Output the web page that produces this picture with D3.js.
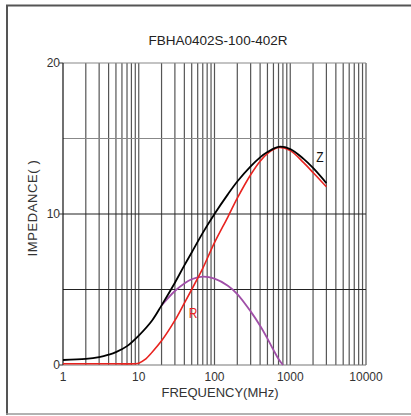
<!DOCTYPE html>
<html><head><meta charset="utf-8">
<script src="https://cdn.jsdelivr.net/npm/d3@7"></script>
<style>body{margin:0;background:#fff}svg{display:block}text{font-family:Arial,"Liberation Sans",sans-serif}</style>
</head><body>
<svg id="c" width="411" height="416"></svg>
<script>
const title = "FBHA0402S-100-402R";
const xTicks = [1, 10, 100, 1000, 10000];
const xTickLabels = ["1", "10", "100", "1000", "10000"];
const yTicks = [0, 10, 20];
const yGrid = [5, 10, 15, 20];
const zFreq = [1, 2, 3, 4, 5, 7, 10, 15, 20, 30, 40, 50, 70, 100, 150, 200, 300, 400, 500, 700, 1000, 1500, 2000, 3000];
const zVals = [0.33, 0.4, 0.52, 0.68, 0.85, 1.25, 1.95, 2.95, 3.95, 5.45, 6.6, 7.45, 8.75, 10.0, 11.3, 12.15, 13.15, 13.75, 14.1, 14.45, 14.3, 13.65, 13.05, 12.05];
const rFreq = [1, 5, 9, 10, 12, 15, 20, 30, 40, 50, 60, 70, 100, 150, 200, 300, 400, 500, 700, 1000, 1500, 2000, 3000];
const rVals = [0.08, 0.08, 0.08, 0.12, 0.35, 0.85, 1.6, 2.95, 4.1, 5.0, 5.75, 6.4, 8.1, 9.8, 11.05, 12.6, 13.5, 14.0, 14.4, 14.2, 13.4, 12.75, 11.8];
const xFreq = [20, 30, 40, 50, 70, 100, 150, 200, 300, 400, 500, 600, 700, 800];
const xVals = [3.95, 4.9, 5.4, 5.68, 5.85, 5.72, 5.25, 4.7, 3.55, 2.6, 1.75, 1.0, 0.4, 0.0];

const svg = d3.select("#c");
// outer frame
svg.append("line").attr("x1",6).attr("x2",411).attr("y1",5.5).attr("y2",5.5).attr("stroke","#555").attr("stroke-width",2);
svg.append("line").attr("x1",7).attr("x2",7).attr("y1",5).attr("y2",415).attr("stroke","#555").attr("stroke-width",2);
svg.append("line").attr("x1",6).attr("x2",411).attr("y1",414).attr("y2",414).attr("stroke","#999").attr("stroke-width",1.5);

const x = d3.scaleLog().domain([1, 10000]).range([63, 366]);
const y = d3.scaleLinear().domain([0, 20]).range([365, 63]);

// vertical grid
const vg = [];
for (let k = 0; k < 4; k++) for (let m = 1; m <= 9; m++) vg.push(m * Math.pow(10, k));
vg.push(10000);
const g = svg.append("g");
g.selectAll("line.v").data(vg.filter(d => d > 1)).join("line")
  .attr("x1", d => x(d)).attr("x2", d => x(d)).attr("y1", y(20)).attr("y2", y(0))
  .attr("stroke", "#555").attr("stroke-width", 1.2);
g.selectAll("line.h").data(yGrid).join("line")
  .attr("x1", x(1)).attr("x2", x(10000)).attr("y1", d => y(d)).attr("y2", d => y(d))
  .attr("stroke", d => (d === 15 || d === 20) ? "#888" : "#222").attr("stroke-width", 1.2);
g.append("line").attr("x1", x(1)).attr("x2", x(10000)).attr("y1", y(0)).attr("y2", y(0)).attr("stroke", "#777").attr("stroke-width", 1.2);
// left axis
g.append("line").attr("x1", x(1)).attr("x2", x(1)).attr("y1", y(20)).attr("y2", y(0)).attr("stroke", "#111").attr("stroke-width", 1.2);
g.selectAll("line.t").data(yTicks).join("line")
  .attr("x1", x(1) - 4).attr("x2", x(1)).attr("y1", d => y(d)).attr("y2", d => y(d)).attr("stroke", "#333");
svg.selectAll("text.yt").data(yTicks).join("text")
  .attr("x", x(1) - 3).attr("y", d => y(d) + 4).attr("text-anchor", "end")
  .attr("font-size", 12).attr("fill", "#333").text(d => d);
svg.selectAll("text.xt").data(xTicks).join("text")
  .attr("x", d => x(d)).attr("y", 381).attr("text-anchor", "middle")
  .attr("font-size", 12).attr("fill", "#333").text((d, i) => xTickLabels[i]);

svg.append("text").attr("x", 218).attr("y", 45).attr("text-anchor", "middle").attr("font-size", 13.5).attr("fill", "#222").text(title);
svg.append("text").attr("x", 220).attr("y", 397).attr("text-anchor", "middle").attr("font-size", 13).attr("fill", "#333").text("FREQUENCY(MHz)");
svg.append("text").attr("transform", "translate(37,208) rotate(-90)").attr("text-anchor", "middle").attr("font-size", 13).attr("letter-spacing", 0.6).attr("fill", "#333").text("IMPEDANCE(   )");

const line = d3.line().x(d => x(d[0])).y(d => y(d[1])).curve(d3.curveCatmullRom.alpha(0.5));
svg.append("path").datum(xFreq.map((f, i) => [f, xVals[i]])).attr("d", line).attr("fill", "none").attr("stroke", "#a04fa8").attr("stroke-width", 1.8);
svg.append("path").datum(rFreq.map((f, i) => [f, rVals[i]])).attr("d", line).attr("fill", "none").attr("stroke", "#e8231f").attr("stroke-width", 1.6);
svg.append("path").datum(zFreq.map((f, i) => [f, zVals[i]])).attr("d", line).attr("fill", "none").attr("stroke", "#000").attr("stroke-width", 1.8);

svg.append("text").attr("x", 320).attr("y", 162).attr("text-anchor", "middle").attr("font-size", 15).attr("fill", "#111").attr("transform", "translate(320,162) scale(0.8,1) translate(-320,-162)").text("Z");
svg.append("text").attr("x", 193).attr("y", 318).attr("text-anchor", "middle").attr("font-size", 15).attr("fill", "#e8231f").attr("transform", "translate(193,318) scale(0.8,1) translate(-193,-318)").text("R");
</script>
</body></html>
